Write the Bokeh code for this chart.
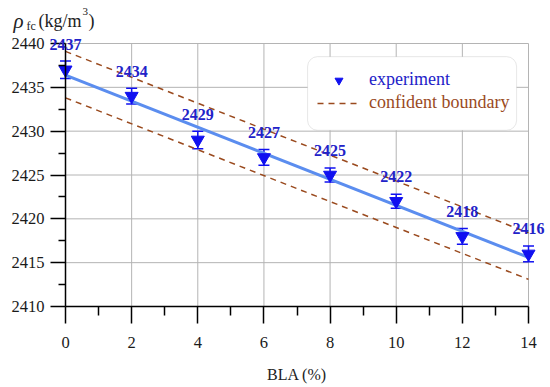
from bokeh.plotting import figure
from bokeh.models import (ColumnDataSource, Whisker, TeeHead, LabelSet, Label, Legend,
                          LegendItem, BoxAnnotation, FixedTicker)
from bokeh.embed import file_html
from bokeh.resources import INLINE

# ---- data ----
bla = [0, 2, 4, 6, 8, 10, 12, 14]
density = [2437, 2434, 2429, 2427, 2425, 2422, 2418, 2416]
err = [1.0, 0.9, 1.0, 0.9, 0.8, 0.8, 0.9, 0.9]
value_labels = ["2437", "2434", "2429", "2427", "2425", "2422", "2418", "2416"]

fit_x = [0, 14]
fit_y = [2436.4, 2415.6]
upper_y = [2439.1, 2418.4]
lower_y = [2433.8, 2413.1]

x_ticks = [0, 2, 4, 6, 8, 10, 12, 14]
x_minor = [1, 3, 5, 7, 9, 11, 13]
y_ticks = [2410, 2415, 2420, 2425, 2430, 2435, 2440]
y_minor = [2412.5, 2417.5, 2422.5, 2427.5, 2432.5, 2437.5]
x_lim = (0, 14)
y_lim = (2410, 2440)

SERIF = "Liberation Serif"
BLUE = "#1010f0"
LBLUE = "#2222c8"
BROWN = "#9a4a1e"
GRID = "#b4b4b4"

# ---- layout: the frame fills the canvas; axes sit at fixed data positions ----
W, H = 548, 386
AX_L, AX_R, AX_T, AX_B = 65, 528, 43, 306   # pixel positions of the axis box
sx = (x_lim[1] - x_lim[0]) / (AX_R - AX_L)
sy = (y_lim[1] - y_lim[0]) / (AX_B - AX_T)
x_range = (x_lim[0] - AX_L * sx, x_lim[1] + (W - AX_R) * sx)
y_range = (y_lim[0] - (H - AX_B) * sy, y_lim[1] + AX_T * sy)

src = ColumnDataSource(dict(
    x=bla, y=density, lo=[d - e for d, e in zip(density, err)],
    hi=[d + e for d, e in zip(density, err)], lab=value_labels))

p = figure(width=W, height=H, x_range=x_range, y_range=y_range,
           output_backend="svg", toolbar_location=None,
           min_border_left=0, min_border_right=0, min_border_top=0, min_border_bottom=0)
p.outline_line_color = None
p.background_fill_color = "white"
p.grid.visible = False

# grid lines drawn within the axis box
p.segment(x0=x_ticks, y0=[y_lim[0]] * len(x_ticks), x1=x_ticks, y1=[y_lim[1]] * len(x_ticks),
          line_color=GRID, line_width=1, level="underlay")
p.segment(x0=[x_lim[0]] * len(y_ticks), y0=y_ticks, x1=[x_lim[1]] * len(y_ticks), y1=y_ticks,
          line_color=GRID, line_width=1, level="underlay")

# axes
p.xaxis.fixed_location = y_lim[0]
p.yaxis.fixed_location = x_lim[0]
p.xaxis.bounds = x_lim
p.yaxis.bounds = y_lim
p.xaxis.ticker = FixedTicker(ticks=x_ticks, minor_ticks=x_minor)
p.yaxis.ticker = FixedTicker(ticks=y_ticks, minor_ticks=y_minor)
for ax in (p.xaxis, p.yaxis):
    ax.axis_line_color = "black"
    ax.axis_line_width = 1.5
    ax.major_tick_line_color = "black"
    ax.minor_tick_line_color = "black"
    ax.major_tick_line_width = 1.5
    ax.minor_tick_line_width = 1.5
    ax.major_tick_in = 0
    ax.minor_tick_in = 0
    ax.major_label_text_font = SERIF
    ax.major_label_text_font_size = "16.5px"
    ax.major_label_text_color = "#1a1a1a"
    ax.axis_label_text_font = SERIF
    ax.axis_label_text_font_size = "16px"
    ax.axis_label_text_font_style = "normal"
    ax.axis_label_text_color = "#222222"
p.xaxis.major_tick_out = 17
p.xaxis.minor_tick_out = 9
p.xaxis.major_label_standoff = 13
p.xaxis.axis_label = "BLA (%)"
p.xaxis.axis_label_standoff = 15
p.yaxis.major_tick_out = 15
p.yaxis.minor_tick_out = 7
p.yaxis.major_label_standoff = 6

# confidence boundaries
r_up = p.line(fit_x, upper_y, line_color=BROWN, line_width=1.5, line_dash="6 5")
p.line(fit_x, lower_y, line_color=BROWN, line_width=1.5, line_dash="6 5")
# fitted line
p.line(fit_x, fit_y, line_color="#5b8def", line_width=3)

# error bars
p.add_layout(Whisker(source=src, base="x", lower="lo", upper="hi", line_color=BLUE,
                     line_width=1.5,
                     upper_head=TeeHead(size=11, line_color=BLUE, line_width=1.5),
                     lower_head=TeeHead(size=11, line_color=BLUE, line_width=1.5)))
# markers
r_pts = p.scatter("x", "y", source=src, marker="inverted_triangle", size=13,
                  fill_color=BLUE, line_color=BLUE)

# value labels
p.add_layout(LabelSet(x="x", y="y", text="lab", source=src, y_offset=25,
                      text_align="center", text_baseline="middle",
                      text_font=SERIF, text_font_size="16px", text_font_style="bold",
                      text_color=LBLUE))

# y-axis title pieces: rho_fc (kg/m^3)
title_parts = [
    ("ρ", -52, 23, "21px", "italic"),
    ("fc", -39, 18, "12px", "normal"),
    ("(kg/m", -27, 23, "18px", "normal"),
    ("3", 17, 32, "11px", "normal"),
    (")", 23, 23, "18px", "normal"),
]
for txt, dx, dy, fs, st in title_parts:
    p.add_layout(Label(x=x_lim[0], y=y_lim[1], x_offset=dx, y_offset=dy, text=txt,
                       text_font=SERIF, text_font_size=fs, text_font_style=st,
                       text_color="#222222", text_baseline="alphabetic"))

# legend frame (rounded box)
p.add_layout(BoxAnnotation(left=7.32, right=13.64, bottom=2430.1, top=2438.5,
                           fill_color="white", fill_alpha=1.0,
                           line_color="#b0b0b0", line_width=1, border_radius=10))

def mk_legend(item, color, loc):
    return Legend(items=[item], location=loc, padding=0, margin=0, spacing=0,
                  glyph_width=43, glyph_height=20, label_height=20, label_standoff=9,
                  label_text_font=SERIF, label_text_font_size="18px",
                  label_text_color=color, background_fill_alpha=0,
                  border_line_alpha=0)

p.add_layout(mk_legend(LegendItem(label="experiment", renderers=[r_pts]), LBLUE,
                       (317, H - 90)))
p.add_layout(mk_legend(LegendItem(label="confident boundary", renderers=[r_up]), BROWN,
                       (317, H - 113)))

open("out.html", "w").write(file_html(p, INLINE))
